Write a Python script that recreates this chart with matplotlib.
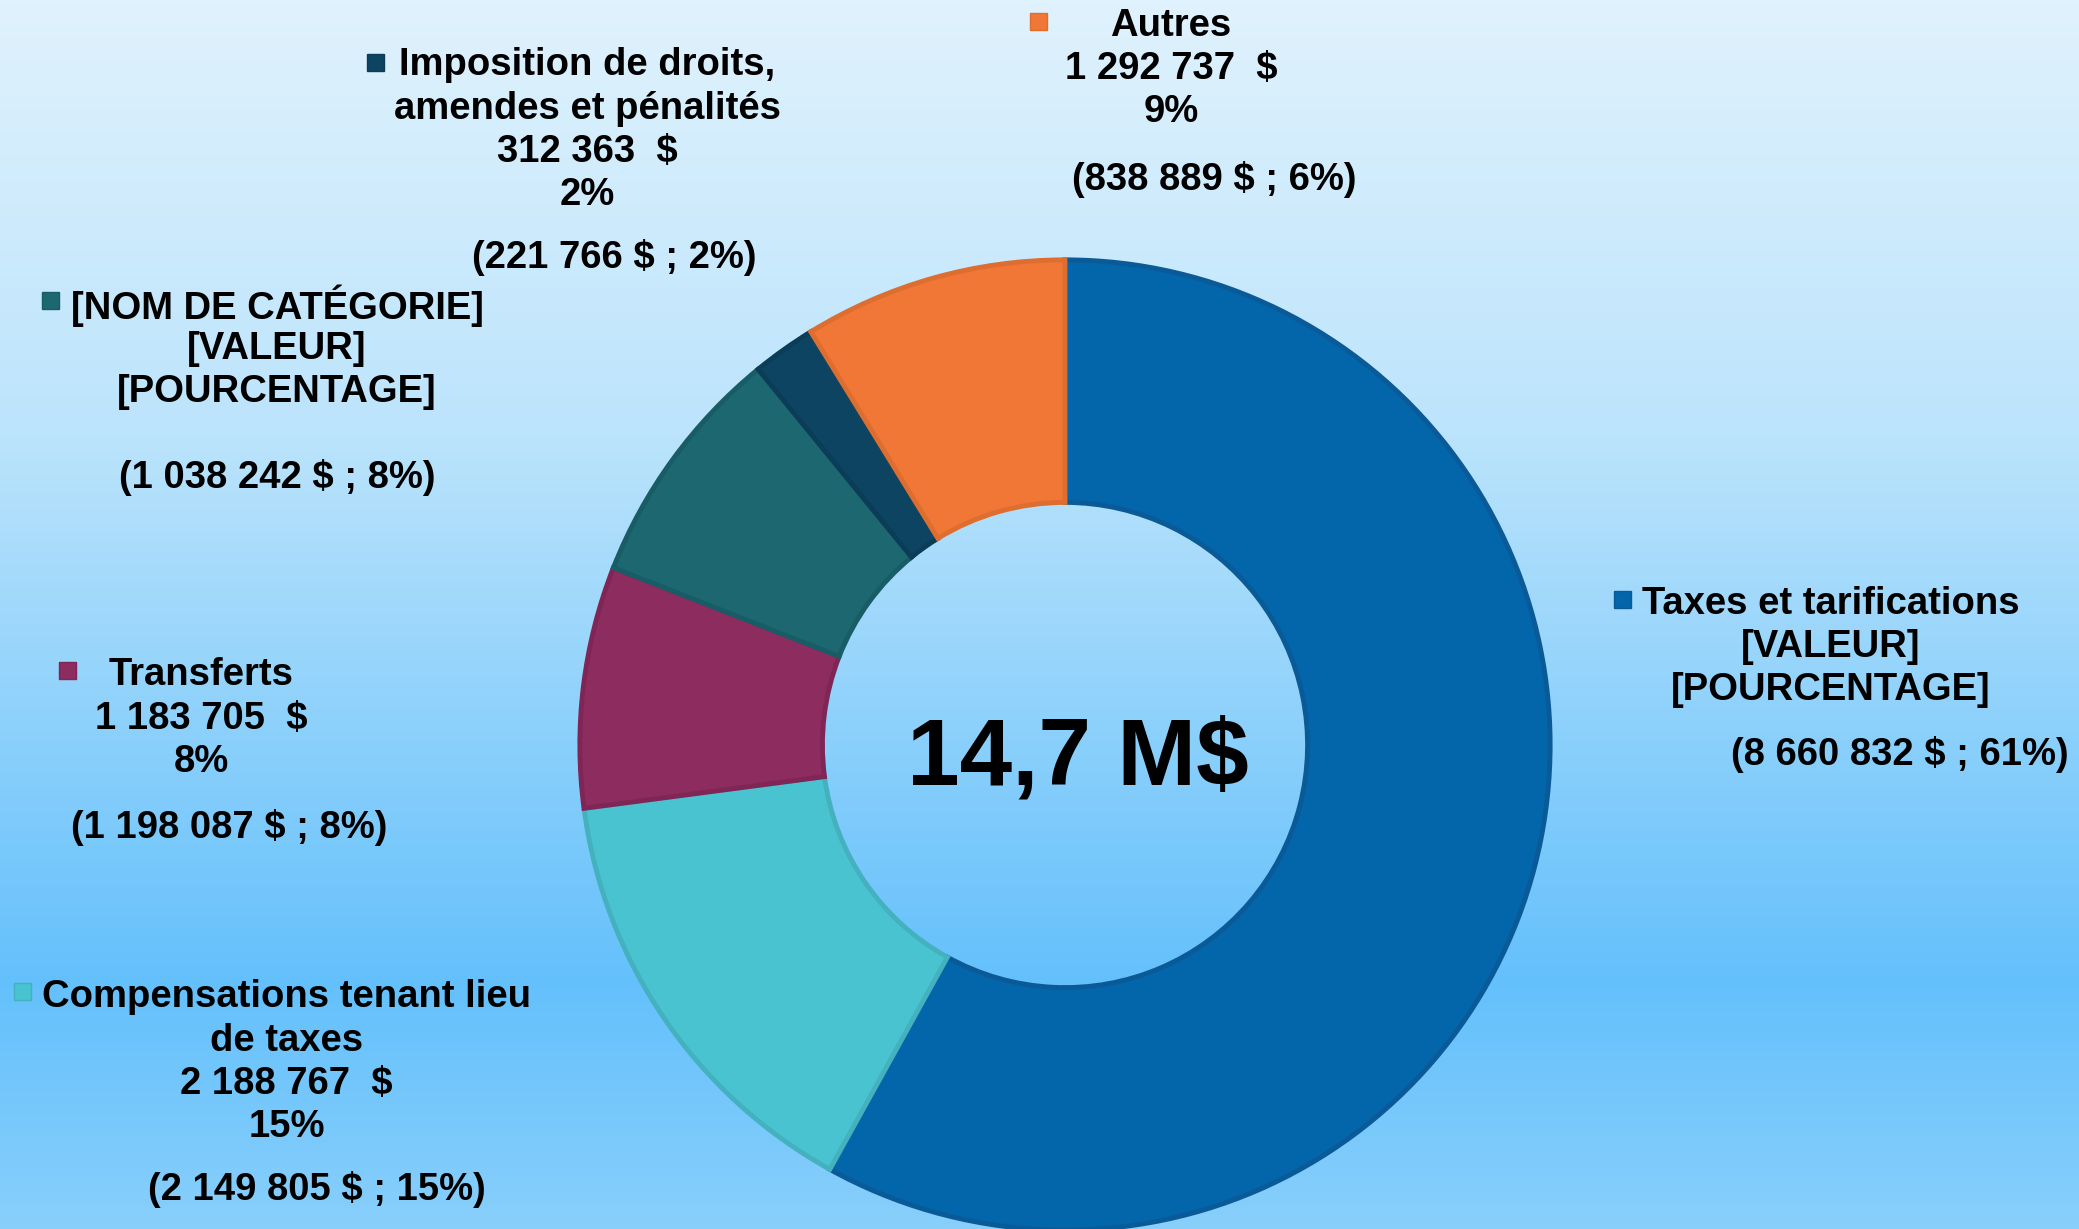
import matplotlib
matplotlib.use("Agg")
import matplotlib.pyplot as plt
import numpy as np
from matplotlib.colors import LinearSegmentedColormap

# ---- data ----
categories = ["Taxes et tarifications", "Compensations tenant lieu\nde taxes", "Transferts",
              "[NOM DE CATÉGORIE]", "Imposition de droits,\namendes et pénalités", "Autres"]
values = [8550000, 2188767, 1183705, 1200000, 312363, 1292737]
value_labels = ["[VALEUR]", "2 188 767  $", "1 183 705  $", "[VALEUR]", "312 363  $", "1 292 737  $"]
pct_labels = ["[POURCENTAGE]", "15%", "8%", "[POURCENTAGE]", "2%", "9%"]
previous_labels = ["(8 660 832 $ ; 61%)", "(2 149 805 $ ; 15%)", "(1 198 087 $ ; 8%)",
                   "(1 038 242 $ ; 8%)", "(221 766 $ ; 2%)", "(838 889 $ ; 6%)"]
total_label = "14,7 M$"

colors = ["#0365AA", "#4AC3D1", "#8C2C5F", "#1C6770", "#0D4461", "#F07735"]
edges = ["#0A5A98", "#44B1BF", "#7F2656", "#185D66", "#0B3D58", "#DE6D30"]

W, H = 2079, 1229
fig = plt.figure(figsize=(W / 100, H / 100), dpi=100)

# background gradient
bg = fig.add_axes([0, 0, 1, 1])
cmap = LinearSegmentedColormap.from_list("bg", [(0, "#E0F2FD"), (0.35, "#BCE4FC"),
                                                (0.8, "#64C0FB"), (1.0, "#88CFFC")])
grad = np.linspace(0, 1, 256).reshape(-1, 1)
bg.imshow(grad, aspect="auto", cmap=cmap, extent=[0, 1, 1, 0])
bg.set_xlim(0, 1); bg.set_ylim(1, 0)
bg.axis("off")

# donut
cx, cy, R = 1065, 745, 490
ax = fig.add_axes([(cx - R) / W, (H - cy - R) / H, 2 * R / W, 2 * R / H])
wedges, _ = ax.pie(values, colors=colors, startangle=90, counterclock=False,
                   radius=1.0, wedgeprops=dict(width=0.50, linewidth=3.5))
for w, e in zip(wedges, edges):
    w.set_edgecolor(e)
ax.set_xlim(-1.01, 1.01); ax.set_ylim(-1.01, 1.01)
ax.set_aspect("equal")
ax.axis("off")

fam = ["Liberation Sans", "DejaVu Sans"]

def px(x, y):
    return x / W, 1 - y / H

fig.text(*px(1078, 760), total_label, fontsize=68, fontweight="bold", family=fam,
         ha="center", va="center", color="black")

s = 1.3259
# label layout (shrunk-coords of block anchors): marker, text center x, first line y, prev center x, prev y
layout = [
    ((1224, 452), 1381, 453, 1433, 567),
    ((17, 748), 216, 750, 239, 895),
    ((51, 506), 152, 507, 173, 622),
    ((38, 227), 209, 228, 209, 358),
    ((283, 47), 443, 47, 463, 192),
    ((783, 16), 883, 17, 916, 133),
]
line_h = 32.7 * s
fs = 27.5
dy = 3
for i, (mk, tx, ty, pxx, pyy) in enumerate(layout):
    lines = categories[i].split("\n") + [value_labels[i], pct_labels[i]]
    for j, ln in enumerate(lines):
        fig.text(*px(tx * s, ty * s + j * line_h + dy), ln, fontsize=fs, fontweight="bold",
                 family=fam, ha="center", va="center", color="black")
    fig.text(*px(pxx * s, pyy * s + dy), previous_labels[i], fontsize=fs, fontweight="bold",
             family=fam, ha="center", va="center", color="black")
    m = 17
    mx, my = mk[0] * s, mk[1] * s
    fig.patches.append(plt.Rectangle(((mx - m / 2) / W, 1 - (my + m / 2) / H), m / W, m / H,
                                     transform=fig.transFigure, facecolor=colors[i],
                                     edgecolor=edges[i], linewidth=1))

fig.savefig("out.png", dpi=100)
